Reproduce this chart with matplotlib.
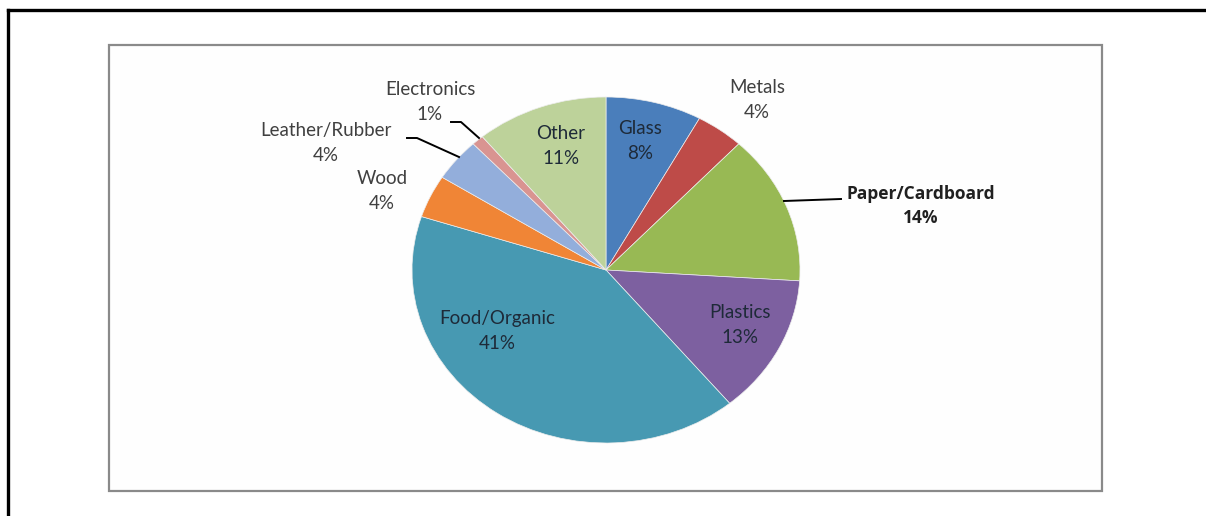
import matplotlib
matplotlib.use("Agg")
import matplotlib.pyplot as plt
from matplotlib.lines import Line2D
from matplotlib.patches import Rectangle

# ---- data ----
categories = ["Glass", "Metals", "Paper/Cardboard", "Plastics", "Food/Organic",
              "Wood", "Leather/Rubber", "Electronics", "Other"]
shares = [8, 4, 14, 13, 41, 4, 4, 1, 11]
colors = ["#4A7EBB", "#BE4B48", "#98B954", "#7D60A0", "#4799B2",
          "#F08536", "#93AEDB", "#D99491", "#BDD29A"]

W, H = 1206, 516
fig = plt.figure(figsize=(W / 100, H / 100), dpi=100)
fig.patch.set_facecolor("white")
plt.rcParams["font.family"] = ["Lato", "DejaVu Sans"]


def fx(x):
    return x / W


def fy(y):
    return 1 - y / H


# outer black frame (top + left)
fig.add_artist(Line2D([fx(8), fx(1206)], [fy(10), fy(10)], color="black", lw=2.4))
fig.add_artist(Line2D([fx(8), fx(8)], [fy(10), fy(516)], color="black", lw=2.4))
# inner chart box
box = Rectangle((fx(109), fy(491)), fx(1102) - fx(109), fy(45) - fy(491),
                transform=fig.transFigure, facecolor="#FEFEFE",
                edgecolor="#8A8A8A", lw=1.6, zorder=-5)
fig.add_artist(box)

# pie axes
left, right, top, bottom = 412, 800, 97, 443
ax = fig.add_axes([fx(left), fy(bottom), fx(right) - fx(left), fy(top) - fy(bottom)])
ax.patch.set_visible(False)
ax.pie(shares, colors=colors, startangle=90, counterclock=False, radius=1,
       wedgeprops=dict(linewidth=0.5, edgecolor="#EDEDED"))
ax.set_aspect("auto")
ax.set_xlim(-1, 1)
ax.set_ylim(-1, 1)
ax.axis("off")

inside_col = "#1E2A38"
outside_col = "#404040"
label_pos = {
    "Glass": (640, 141, inside_col),
    "Metals": (757, 100, outside_col),
    "Paper/Cardboard": (921, 206, "#202020"),
    "Plastics": (740, 325, inside_col),
    "Food/Organic": (497, 331, inside_col),
    "Wood": (382, 191, outside_col),
    "Leather/Rubber": (326, 143, outside_col),
    "Electronics": (430, 102, outside_col),
    "Other": (561, 146, inside_col),
}
for cat, val in zip(categories, shares):
    x, y, c = label_pos[cat]
    if cat == "Paper/Cardboard":
        fig.text(fx(x), fy(y), f"{cat}\n{val}%", ha="center", va="center",
                 fontsize=12.5, fontweight="bold", color=c, linespacing=1.45,
                 family=["Open Sans", "DejaVu Sans"], zorder=5)
    else:
        fig.text(fx(x), fy(y), f"{cat}\n{val}%", ha="center", va="center",
                 fontsize=13.5, color=c, linespacing=1.6, zorder=5)

# leader lines
leaders = [
    [(784, 201), (841, 199)],
    [(407, 138), (417, 138), (459, 157)],
    [(451, 122), (461, 122), (479, 138)],
]
for pts in leaders:
    xs = [fx(p[0]) for p in pts]
    ys = [fy(p[1]) for p in pts]
    fig.add_artist(Line2D(xs, ys, color="black", lw=1.4, zorder=5))

fig.savefig("out.png", dpi=100, facecolor="white")
